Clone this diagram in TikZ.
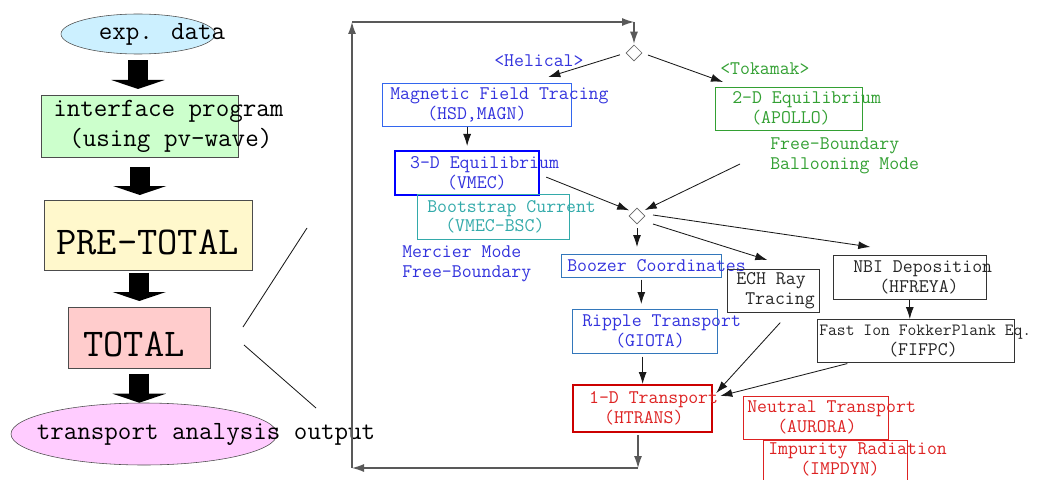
\documentclass[tikz,border=0pt]{standalone}
\usepackage{fontspec}
\usetikzlibrary{arrows.meta}
\usetikzlibrary{positioning}
\usetikzlibrary{shapes.geometric}
\definecolor{hblue}{HTML}{3333DD}
\definecolor{mfblue}{HTML}{3366EE}
\definecolor{bzblue}{HTML}{3377BB}
\definecolor{bsteal}{HTML}{33AAAA}
\definecolor{tkgreen}{HTML}{33A033}
\definecolor{trred}{HTML}{DD2222}
\definecolor{expfill}{HTML}{CCF0FF}
\definecolor{iffill}{HTML}{CCFFCC}
\definecolor{prefill}{HTML}{FFF8CC}
\definecolor{totfill}{HTML}{FFCCCC}
\definecolor{outfill}{HTML}{FFCCFF}
\begin{document}
\begin{tikzpicture}[x=0.25mm,y=-0.25mm,
  every node/.style={font=\ttfamily\fontsize{13.7}{14.2}\selectfont},
  prog/.style={draw,rectangle,anchor=north west,align=left,inner ysep=0pt,
    execute at begin node={\spaceskip 0pt\relax\xspaceskip 0pt\relax}},
  note/.style={inner sep=0pt,align=left,anchor=west},
  bigfont/.style={font=\ttfamily\fontsize{18.7}{21.3}\selectfont},
  hugefont/.style={font=\ttfamily\fontsize{28}{30}\selectfont},
  flow/.style={draw=black!90,line width=0.6pt,-{Latex[length=3mm,width=2mm]}},
  loopline/.style={draw=black!65,line width=0.8pt,-{Latex[length=3mm,width=2mm]}},
  bigarr/.style={draw=black,line width=5mm,-{Triangle[length=2.25mm,width=13.25mm]}}]
\useasboundingbox (0,0) rectangle (1038,479);

% left column
\node[draw=black!70,fill=expfill,ellipse,minimum width=38.5mm,minimum height=10mm,inner sep=0pt,bigfont] (exp) at (138,34) {\makebox[0pt]{\hspace*{12mm}exp. data}};
\node[prog,draw=black!70,fill=iffill,bigfont,text width=43.25mm,inner xsep=3mm,minimum height=15.5mm] (iface) at (41,95) {\mbox{interface program}\\\mbox{\hspace*{4mm}(using pv-wave)}};
\node[prog,draw=black!70,fill=prefill,hugefont,text width=46mm,inner xsep=3mm,minimum height=17.5mm] (pre) at (44,200) {\raisebox{-1.75mm}[\height][\depth]{PRE-TOTAL}};
\node[prog,draw=black!70,fill=totfill,hugefont,text width=28mm,inner xsep=3.75mm,minimum height=15.25mm] (total) at (68,307) {\raisebox{-1.75mm}[\height][\depth]{TOTAL}};
\node[draw=black!70,fill=outfill,ellipse,minimum width=66.5mm,minimum height=15.5mm,inner sep=0pt,bigfont] (out) at (144,434) {\makebox[0pt]{\hspace*{31mm}transport analysis output}};

\draw[bigarr,shorten <=1.5mm,shorten >=1.5mm] (exp.south) -- (exp.south |- iface.north);
\draw[bigarr,shorten <=2.25mm,shorten >=1.25mm] (iface.south) -- (iface.south |- pre.north);
\draw[bigarr,shorten <=0.5mm,shorten >=1.5mm] (total.north |- pre.south) -- (total.north);
\draw[bigarr,shorten <=1.25mm] (total.south) -- (total.south |- out.north);

% zoom lines
\coordinate (z1) at (243,327);
\coordinate (z2) at (307,228);
\coordinate (z3) at (244,345);
\coordinate (z4) at (316,408);
\draw[black!90,line width=0.6pt] (z1) -- (z2);
\draw[black!90,line width=0.6pt] (z3) -- (z4);

% branch points
\node[diamond,draw=black!60,minimum size=4mm,inner sep=0pt] (d1) at (634,53) {};
\node[diamond,draw=black!60,minimum size=4mm,inner sep=0pt] (d2) at (637,216) {};

% helical side
\node[note,text=hblue] (hel) at (494,61) {<Helical>};
\node[prog,draw=mfblue,text=hblue,text width=43.25mm,inner xsep=2mm,minimum height=10.75mm] (mft) at (382,83) {\mbox{Magnetic Field Tracing}\\\mbox{\hspace*{9.25mm}(HSD,MAGN)}};
\node[prog,draw=blue,line width=1.6pt,text=hblue,text width=28.5mm,inner xsep=3.75mm,minimum height=11mm] (vmec) at (394,150) {\mbox{3-D Equilibrium}\\\mbox{\hspace*{9.25mm}(VMEC)}};
\node[prog,draw=bsteal,text=bsteal,text width=33mm,inner xsep=2.5mm,minimum height=11.25mm] (bsc) at (417,194) {\mbox{Bootstrap Current}\\\mbox{\hspace*{4.5mm}(VMEC-BSC)}};
\node[note,text=hblue] (merc) at (402,263.5) {Mercier Mode\\Free-Boundary};

% tokamak side
\node[note,text=tkgreen] (tok) at (720,69) {<Tokamak>};
\node[prog,draw=tkgreen,text=tkgreen,text width=28.25mm,inner xsep=4.25mm,minimum height=10.75mm] (apollo) at (715,87) {\mbox{2-D Equilibrium}\\\mbox{\hspace*{4.75mm}(APOLLO)}};
\node[note,text=tkgreen] (fbal) at (770,156) {Free-Boundary\\Ballooning Mode};
\coordinate (fb) at (740,164);

% transport chain
\node[prog,draw=bzblue,text=hblue,text width=37mm,inner xsep=1.5mm,minimum height=5.75mm] (booz) at (561,254) {\mbox{Boozer Coordinates}};
\node[prog,draw=bzblue,text=hblue,text width=31.25mm,inner xsep=2.5mm,minimum height=11mm] (giota) at (572,309) {\mbox{Ripple Transport}\\\mbox{\hspace*{8.25mm}(GIOTA)}};
\node[prog,draw=red!80!black,line width=1.6pt,text=trred,text width=26.75mm,inner xsep=4mm,minimum height=11.75mm] (htrans) at (572,384) {\mbox{1-D Transport}\\\mbox{\hspace*{3.75mm}(HTRANS)}};
\node[prog,draw=black!80,text=black!85,text width=18.5mm,inner xsep=2.25mm,minimum height=10.75mm] (ech) at (727,269) {\mbox{ECH Ray}\\\mbox{\hspace*{2.25mm}Tracing}};
\node[prog,draw=black!80,text=black!85,text width=28.25mm,inner xsep=5mm,minimum height=11mm] (nbi) at (833,255) {\mbox{NBI Deposition}\\\mbox{\hspace*{6.5mm}(HFREYA)}};
\node[prog,draw=black!80,text=black!85,text width=48.25mm,inner xsep=0.5mm,minimum height=10.75mm] (fifpc) at (817,319) {\mbox{\fontsize{12.2}{14.2}\selectfont Fast Ion FokkerPlank Eq.}\\\mbox{\hspace*{17.25mm}(FIFPC)}};
\node[prog,draw=trred,text=trred,text width=34.25mm,inner xsep=1mm,minimum height=10.75mm] (aurora) at (743,396) {\mbox{Neutral Transport}\\\mbox{\hspace*{7.5mm}(AURORA)}};
\node[prog,draw=trred,text=trred,text width=33.5mm,inner xsep=1.25mm,minimum height=11mm] (impdyn) at (763,440) {\raisebox{0.6mm}[\height][\depth]{\mbox{Impurity Radiation}}\\\raisebox{0.6mm}[\height][\depth]{\mbox{\hspace*{8mm}(IMPDYN)}}};

% loop back
\coordinate (cb) at (638,468);
\coordinate (cl) at (352,468);
\coordinate (ct) at (352,22);
\coordinate (cr) at (634,22);

% connectors
\draw[flow,shorten <=1.5mm] (d1.west) -- ([shift={(71.5,-6)}]mft.north);
\draw[flow,shorten <=1.5mm] (d1.east) -- ([shift={(8,-5)}]apollo.north west);
\draw[flow,shorten >=1mm] (vmec.north |- mft.south) -- (vmec.north);
\draw[flow,shorten >=1mm] ([shift={(6,4)}]vmec.east) -- (d2.north west);
\draw[flow,shorten >=1mm] (fb) -- (d2.north east);
\draw[flow,shorten <=1mm,shorten >=1.75mm] (d2.south) -- (d2.south |- booz.north);
\draw[flow] ([shift={(16,8)}]d2.center) -- ([shift={(-6,-9)}]ech.north);
\draw[flow] ([shift={(16,-1)}]d2.center) -- ([shift={(-39.5,-8)}]nbi.north);
\draw[flow] (nbi.south) -- (nbi.south |- fifpc.north);
\draw[flow,shorten <=0.5mm,shorten >=1.25mm] (booz.south) -- (booz.south |- giota.north);
\draw[flow,shorten <=0.75mm] (htrans.north |- giota.south) -- (htrans.north);
\draw[flow] ([shift={(7,10)}]ech.south) -- ([shift={(3,9)}]htrans.north east);
\draw[flow] ([shift={(-68.5,1)}]fifpc.south) -- ([shift={(7,12)}]htrans.north east);
\draw[loopline,shorten <=0.5mm] (htrans.south -| cb) -- (cb);
\draw[loopline] (cb) -- (cl);
\draw[loopline] (cl) -- (ct);
\draw[loopline] (ct) -- (cr);
\draw[loopline,shorten >=0.25mm] (cr) -- (d1.north);
\end{tikzpicture}
\end{document}
